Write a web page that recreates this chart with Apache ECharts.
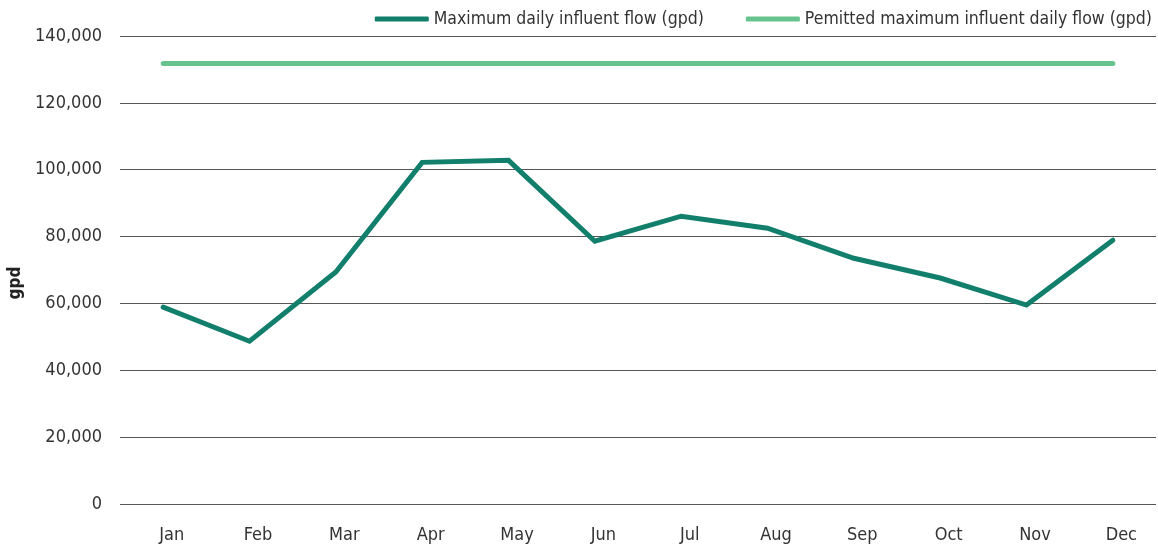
<!DOCTYPE html>
<html>
<head>
<meta charset="utf-8">
<script src="https://cdn.jsdelivr.net/npm/echarts@6/dist/echarts.min.js"></script>
<style>
  html, body { margin: 0; padding: 0; background: #fff; }
  #chart { width: 1158px; height: 553px; }
</style>
</head>
<body>
<div id="chart"></div>
<script>
const months = ['Jan', 'Feb', 'Mar', 'Apr', 'May', 'Jun', 'Jul', 'Aug', 'Sep', 'Oct', 'Nov', 'Dec']
const maxDailyFlow = [58900, 48700, 69400, 102200, 102800, 78600, 86100, 82500, 73500, 67600, 59500, 78900]
const permittedFlow = [131800, 131800, 131800, 131800, 131800, 131800, 131800, 131800, 131800, 131800, 131800, 131800]

const font = "'DejaVu Sans Condensed', 'Liberation Sans Narrow', sans-serif"

const chart = echarts.init(document.getElementById('chart'))
chart.setOption({
  animation: false,
  textStyle: { fontFamily: font },
  legend: {
    top: 5,
    right: 1,
    itemWidth: 54,
    itemHeight: 5,
    itemGap: 42,
    textStyle: { fontSize: 17.5, color: '#333', fontFamily: font },
    data: [
      { name: 'Maximum daily influent flow (gpd)', icon: 'roundRect' },
      { name: 'Pemitted maximum influent daily flow (gpd)', icon: 'roundRect' }
    ]
  },
  grid: { left: 120, right: 2, top: 36, bottom: 49, outerBoundsMode: 'none' },
  xAxis: {
    type: 'category',
    data: months,
    axisLine: { show: false },
    axisTick: { show: false },
    axisLabel: { fontSize: 18, color: '#333', margin: 22, padding: [0, 0, 0, 17] }
  },
  yAxis: {
    type: 'value',
    min: 0,
    max: 140000,
    interval: 20000,
    name: 'gpd',
    nameLocation: 'middle',
    nameGap: 89,
    nameRotate: 90,
    nameTextStyle: { fontSize: 17, fontWeight: 'bold', color: '#222', padding: [0, 0, 0, -26] },
    axisLine: { show: false },
    axisTick: { show: false },
    splitLine: { lineStyle: { color: '#555', width: 1 } },
    axisLabel: {
      fontSize: 18,
      color: '#333',
      margin: 18,
      formatter: v => v.toLocaleString('en-US')
    }
  },
  series: [
    {
      name: 'Maximum daily influent flow (gpd)',
      type: 'line',
      data: maxDailyFlow,
      symbol: 'none',
      color: '#117f6b',
      lineStyle: { width: 5, cap: 'round', join: 'miter' }
    },
    {
      name: 'Pemitted maximum influent daily flow (gpd)',
      type: 'line',
      data: permittedFlow,
      symbol: 'none',
      color: '#66c38e',
      lineStyle: { width: 5, cap: 'round' }
    }
  ]
})
</script>
</body>
</html>
